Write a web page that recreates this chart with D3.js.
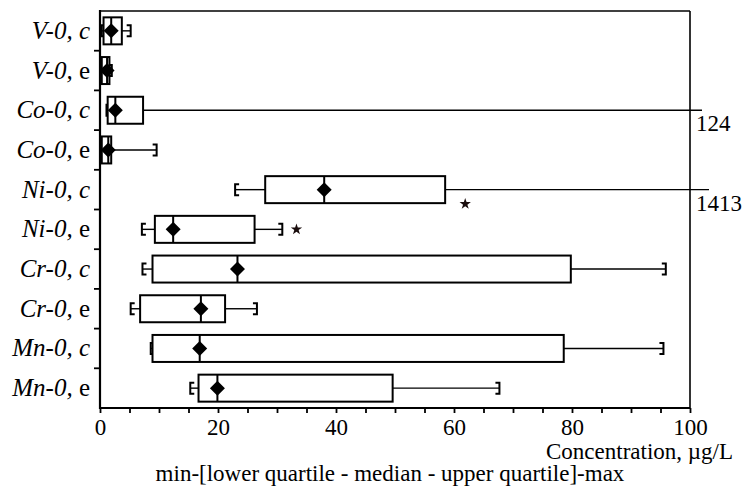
<!DOCTYPE html>
<html>
<head>
<meta charset="utf-8">
<script src="https://cdn.jsdelivr.net/npm/d3@7"></script>
<style>
  html, body { margin: 0; padding: 0; background: #fff; }
  svg text { font-family: "Liberation Serif", "Times New Roman", Times, "DejaVu Serif", serif; }
</style>
</head>
<body>
<svg id="chart" width="744" height="490"></svg>
<script>
// ---- data ----
const elements   = ["V-0", "V-0", "Co-0", "Co-0", "Ni-0", "Ni-0", "Cr-0", "Cr-0", "Mn-0", "Mn-0"];
const kinds      = ["c", "e", "c", "e", "c", "e", "c", "e", "c", "e"];
const minVals    = [0.3, 0.2, 1.1, 0.3, 22.9, 7.1, 7.2, 5.2, 8.6, 15.3];
const q1Vals     = [0.6, 0.3, 1.3, 0.3, 28.0, 9.3, 8.9, 6.8, 8.9, 16.7];
const medianVals = [1.9, 1.2, 2.6, 1.4, 38.0, 12.4, 23.3, 17.1, 16.9, 19.9];
const q3Vals     = [3.7, 1.6, 7.3, 1.9, 58.5, 26.2, 79.8, 21.2, 78.6, 49.6];
const maxVals    = [5.2, 2.0, 124, 9.6, 1413, 30.9, 95.9, 26.6, 95.5, 67.7];
const outliers   = [{row: 4, value: 61.9}, {row: 5, value: 33.3}];
const xTicks     = [0, 20, 40, 60, 80, 100];
const xTitle     = "Concentration, \u00b5g/L";
const caption    = "min-[lower quartile - median - upper quartile]-max";

(function () {
const FONT = '"Liberation Serif", "Times New Roman", Times, "DejaVu Serif", serif';
const categories = elements.map((e, i) => e + ", " + kinds[i]);
const rows = categories.map((c, i) => ({
  cat: c, el: elements[i], kind: kinds[i],
  min: minVals[i], q1: q1Vals[i], med: medianVals[i], q3: q3Vals[i], max: maxVals[i]
}));

// ---- layout ----
const mLeft = 100, mRight = 690, mTop = 11, mBottom = 408;
const axisMax = 100;

const svg = d3.select("#chart");

// main linear scale plus a compressed break region beyond the axis end
const x = d3.scaleLinear().domain([0, axisMax]).range([mLeft, mRight]);
const xOut = d3.scaleLinear().domain([axisMax, 124, 1413]).range([mRight, mRight + 12, mRight + 19]);
const X = v => v <= axisMax ? x(v) : xOut(v);

const y = d3.scaleBand().domain(categories).range([mTop, mBottom]).paddingInner(0.32).paddingOuter(0.16);
const yb = d3.scaleBand().domain(categories).range([mTop, mBottom]);
const cy = c => yb(c) + yb.bandwidth() / 2;

// ---- frame ----
svg.append("line").attr("x1", mLeft).attr("x2", mRight).attr("y1", mTop).attr("y2", mTop)
  .attr("stroke", "#000").attr("stroke-width", 1.6);
svg.append("line").attr("x1", mRight).attr("x2", mRight).attr("y1", mTop).attr("y2", mBottom)
  .attr("stroke", "#000").attr("stroke-width", 1.6);

// x axis
const xAxis = d3.axisBottom(x)
  .tickValues(d3.range(0, axisMax + 0.1, 5))
  .tickSize(5)
  .tickFormat(d => xTicks.includes(d) ? d3.format("d")(d) : "");
const gx = svg.append("g").attr("transform", `translate(0,${mBottom})`).call(xAxis)
  .attr("font-family", FONT);
gx.select(".domain").attr("stroke-width", 2.2).attr("d", `M${mLeft},0H${mRight}`);
gx.selectAll(".tick line").attr("stroke-width", 1.8);
gx.selectAll(".tick text").attr("font-size", 23).attr("font-family", FONT)
  .attr("fill", "#000").attr("dy", null).attr("y", 27);

// y axis (ticks at category boundaries)
svg.append("line").attr("x1", mLeft).attr("x2", mLeft).attr("y1", mTop - 1).attr("y2", mBottom + 1)
  .attr("stroke", "#000").attr("stroke-width", 2.2);
const boundaries = categories.slice(1).map(c => yb(c));
svg.selectAll(".ytick").data(boundaries).join("line")
  .attr("x1", mLeft - 6).attr("x2", mLeft).attr("y1", d => d).attr("y2", d => d)
  .attr("stroke", "#000").attr("stroke-width", 1.8);

// category labels
const labels = svg.selectAll(".cat").data(rows).join("text")
  .attr("x", mLeft - 10).attr("y", d => cy(d.cat) + 8)
  .attr("text-anchor", "end").attr("font-size", 25).attr("font-family", FONT).attr("fill", "#000");
labels.append("tspan").attr("font-style", "italic").text(d => d.el + ", ");
labels.append("tspan").attr("font-style", d => d.kind === "c" ? "italic" : "normal").text(d => d.kind);

// ---- boxes ----
const capH = 5.5, hook = 4;
const g = svg.append("g");
rows.forEach(d => {
  const yc = cy(d.cat);
  const y0 = y(d.cat), h = y.bandwidth();
  g.append("line").attr("x1", X(d.min)).attr("x2", X(d.q1)).attr("y1", yc).attr("y2", yc)
    .attr("stroke", "#000").attr("stroke-width", 1.4);
  g.append("path")
    .attr("d", `M${X(d.min) + hook},${yc - capH}H${X(d.min)}V${yc + capH}H${X(d.min) + hook}`)
    .attr("fill", "none").attr("stroke", "#000").attr("stroke-width", 2);
  g.append("line").attr("x1", X(d.q3)).attr("x2", X(d.max)).attr("y1", yc).attr("y2", yc)
    .attr("stroke", "#000").attr("stroke-width", 1.4);
  if (d.max <= axisMax) {
    g.append("path")
      .attr("d", `M${X(d.max) - hook},${yc - capH}H${X(d.max)}V${yc + capH}H${X(d.max) - hook}`)
      .attr("fill", "none").attr("stroke", "#000").attr("stroke-width", 2);
  } else {
    g.append("text").attr("x", mRight + 6).attr("y", yc + 21)
      .attr("font-size", 23).attr("font-family", FONT).attr("fill", "#000").text(d3.format("d")(d.max));
  }
  g.append("rect").attr("x", X(d.q1)).attr("y", y0)
    .attr("width", X(d.q3) - X(d.q1)).attr("height", h)
    .attr("fill", "#fff").attr("stroke", "#000").attr("stroke-width", 2);
  g.append("line").attr("x1", X(d.med)).attr("x2", X(d.med)).attr("y1", y0).attr("y2", y0 + h)
    .attr("stroke", "#000").attr("stroke-width", 2);
  const dw = 7.5, dh = 7.5, mx = X(d.med);
  g.append("path")
    .attr("d", `M${mx - dw},${yc}L${mx},${yc - dh}L${mx + dw},${yc}L${mx},${yc + dh}Z`)
    .attr("fill", "#000");
});

// outliers
svg.selectAll(".out").data(outliers).join("path")
  .attr("transform", d => {
    const r = rows[d.row];
    const yc = cy(r.cat) + (d.value < r.max ? yb.bandwidth() * 0.36 : 0);
    return `translate(${X(d.value)},${yc})`;
  })
  .attr("d", d3.symbol(d3.symbolStar, 40))
  .attr("fill", "#1a0d0d");

// titles
svg.append("text").attr("x", 733).attr("y", 459).attr("text-anchor", "end")
  .attr("font-size", 23).attr("font-family", FONT).attr("fill", "#000").text(xTitle);
svg.append("text").attr("x", 390).attr("y", 481).attr("text-anchor", "middle")
  .attr("font-size", 23).attr("font-family", FONT).attr("fill", "#000").text(caption);
})();
</script>
</body>
</html>
